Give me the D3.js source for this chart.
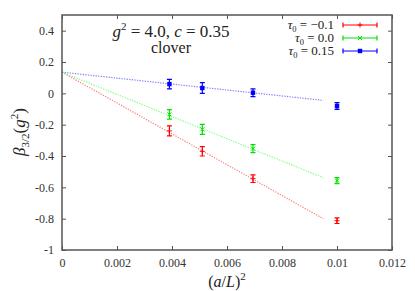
<!DOCTYPE html>
<html><head><meta charset="utf-8">
<script src="https://cdn.jsdelivr.net/npm/d3@7"></script>
<style>
html,body{margin:0;padding:0;background:#fff;}
</style></head>
<body><svg id="c" width="415" height="291"></svg>
<script>
const xs = [0.00390625, 0.00510204, 0.00694444, 0.01];
const seriesNames = ["τ0 = −0.1", "τ0 = 0.0", "τ0 = 0.15"];
const seriesColors = ["#ff0000", "#00e000", "#0000ff"];
const yRed = [-0.24, -0.37, -0.545, -0.813];
const eRed = [0.032, 0.03, 0.024, 0.018];
const yGreen = [-0.134, -0.23, -0.353, -0.557];
const eGreen = [0.03, 0.032, 0.026, 0.019];
const yBlue = [0.059, 0.034, 0.004, -0.081];
const eBlue = [0.03, 0.034, 0.025, 0.022];
// fit lines: [x0, y0, x1, y1]
const fitRed = [0, 0.135, 0.0095, -0.80];
const fitGreen = [0, 0.135, 0.0095, -0.538];
const fitBlue = [0, 0.135, 0.0095, -0.045];
const xTicks = [0, 0.002, 0.004, 0.006, 0.008, 0.01, 0.012];
const yTicks = [-1, -0.8, -0.6, -0.4, -0.2, 0, 0.2, 0.4];

const FF = "'Liberation Serif'";
const svg = d3.select("#c");
const L = 62, R = 392, T = 15, B = 250;
const x = d3.scaleLinear().domain([0, 0.012]).range([L, R]);
const y = d3.scaleLinear().domain([-1, 0.5]).range([B, T]);
const axisCol = "#555";

// fit lines
const fits = [fitRed, fitGreen, fitBlue];
const fitCols = ["#ff8080", "#80ff80", "#8080ff"];
fits.forEach((f, i) => {
  svg.append("line").attr("x1", x(f[0])).attr("y1", y(f[1])).attr("x2", x(f[2])).attr("y2", y(f[3]))
    .attr("stroke", fitCols[i]).attr("stroke-width", 1.2).attr("stroke-dasharray", "1.3,1.3");
});

// frame
svg.append("rect").attr("x", L).attr("y", T).attr("width", R - L).attr("height", B - T)
  .attr("fill", "none").attr("stroke", axisCol).attr("stroke-width", 1.5);

const fmt = v => (v === 0 ? "0" : d3.format("~g")(v).replace("−", "-"));
const xb = d3.axisBottom(x).tickValues(xTicks).tickSize(-4).tickPadding(8).tickFormat(fmt);
const gx = svg.append("g").attr("transform", `translate(0,${B})`).call(xb);
const xt = d3.axisTop(x).tickValues(xTicks).tickSize(-4).tickFormat("");
const gxt = svg.append("g").attr("transform", `translate(0,${T})`).call(xt);
const yl = d3.axisLeft(y).tickValues(yTicks).tickSize(-4).tickPadding(8).tickFormat(fmt);
const gy = svg.append("g").attr("transform", `translate(${L},0)`).call(yl);
const yr = d3.axisRight(y).tickValues(yTicks).tickSize(-4).tickFormat("");
const gyr = svg.append("g").attr("transform", `translate(${R},0)`).call(yr);
[gx, gxt, gy, gyr].forEach(g => {
  g.attr("font-family", null);
  g.select(".domain").remove();
  g.selectAll("line").attr("stroke", axisCol).attr("stroke-width", 1);
  g.selectAll("text").style("font-family", FF).attr("font-size", 12).attr("fill", "#333");
});

// data
const ys = [yRed, yGreen, yBlue];
const es = [eRed, eGreen, eBlue];
function marker(g, cx, cy, i, col) {
  if (i === 0) {
    g.append("path").attr("d", `M${cx-2.5},${cy}H${cx+2.5}M${cx},${cy-2.5}V${cy+2.5}`).attr("stroke", col).attr("stroke-width", 1);
  } else if (i === 1) {
    g.append("path").attr("d", `M${cx-2},${cy-2}L${cx+2},${cy+2}M${cx-2},${cy+2}L${cx+2},${cy-2}`).attr("stroke", col).attr("stroke-width", 1);
  } else {
    g.append("rect").attr("x", cx - 2.2).attr("y", cy - 2.2).attr("width", 4.4).attr("height", 4.4).attr("fill", col);
  }
}
ys.forEach((arr, i) => {
  const col = seriesColors[i];
  const g = svg.append("g");
  arr.forEach((v, j) => {
    const cx = x(xs[j]);
    const y1 = y(v + es[i][j]), y2 = y(v - es[i][j]);
    g.append("path").attr("d", `M${cx},${y1}V${y2}M${cx-2.5},${y1}H${cx+2.5}M${cx-2.5},${y2}H${cx+2.5}`)
      .attr("stroke", col).attr("stroke-width", 1.2).attr("fill", "none");
    marker(g, cx, y(v), i, col);
  });
});

// legend
const legY = [25, 38, 51];
const subs = ["= −0.1", "= 0.0", "= 0.15"];
legY.forEach((ly, i) => {
  const col = seriesColors[i];
  const t = svg.append("text").attr("x", 334).attr("y", ly + 4).attr("text-anchor", "end")
    .style("font-family", FF).attr("font-size", 13).attr("fill", "#222");
  t.append("tspan").attr("font-style", "italic").text("τ");
  t.append("tspan").attr("font-size", 8.5).attr("dy", 2.5).text("0");
  t.append("tspan").attr("dy", -2.5).text(" " + subs[i]);
  const x1 = 343, x2 = 377;
  svg.append("path").attr("d", `M${x1},${ly}H${x2}M${x1},${ly-2.5}V${ly+2.5}M${x2},${ly-2.5}V${ly+2.5}`)
    .attr("stroke", col).attr("stroke-width", 1.2).attr("fill", "none");
  marker(svg, 360, ly, i, col);
});

// title
const tt = svg.append("text").attr("x", 171).attr("y", 37).attr("text-anchor", "middle").style("font-family", FF).attr("font-size", 17).attr("fill", "#222");
tt.append("tspan").attr("font-style", "italic").text("g");
tt.append("tspan").attr("font-size", 11).attr("dy", -7).text("2");
tt.append("tspan").attr("dy", 7).text(" = 4.0, ");
tt.append("tspan").attr("font-style", "italic").text("c");
tt.append("tspan").text(" = 0.35");
svg.append("text").attr("x", 171).attr("y", 53).attr("text-anchor", "middle").style("font-family", FF).attr("font-size", 16).attr("fill", "#222").text("clover");

// x label
const xlab = svg.append("text").attr("x", 227).attr("y", 287).attr("text-anchor", "middle").style("font-family", FF).attr("font-size", 16).attr("fill", "#222");
xlab.append("tspan").text("(");
xlab.append("tspan").attr("font-style", "italic").text("a");
xlab.append("tspan").text("/");
xlab.append("tspan").attr("font-style", "italic").text("L");
xlab.append("tspan").text(")");
xlab.append("tspan").attr("font-size", 11).attr("dy", -7).text("2");

// y label
const ylab = svg.append("text").attr("transform", "translate(25,132) rotate(-90)").attr("text-anchor", "middle").style("font-family", FF).attr("font-size", 17).attr("fill", "#222");
ylab.append("tspan").attr("font-style", "italic").text("β");
ylab.append("tspan").attr("font-size", 11).attr("dy", 4).text("3/2");
ylab.append("tspan").attr("dy", -4).text("(");
ylab.append("tspan").attr("font-style", "italic").text("g");
ylab.append("tspan").attr("font-size", 11).attr("dy", -7).text("2");
ylab.append("tspan").attr("dy", 7).text(")");
</script></body></html>
